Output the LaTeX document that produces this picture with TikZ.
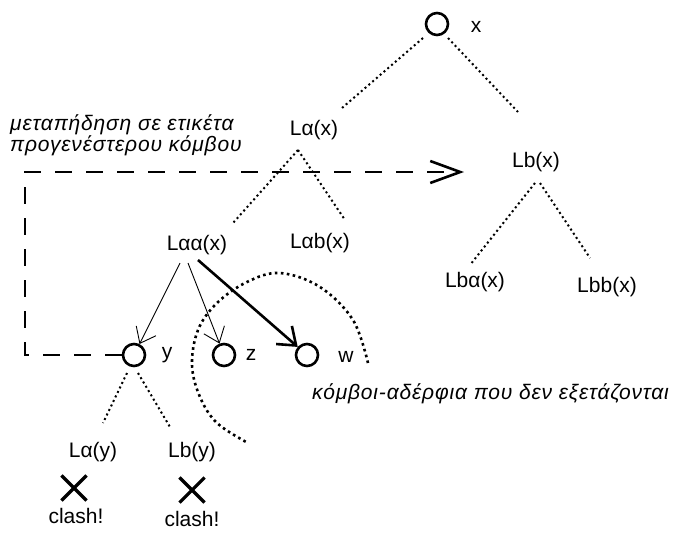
\documentclass[tikz,border=0pt]{standalone}
\usepackage{fontspec}
\setmainfont{Liberation Sans}
\usetikzlibrary{arrows.meta,shapes.misc}

\begin{document}
\begin{tikzpicture}[x=1pt,y=-1pt,
    vertex/.style={circle,draw,line width=2.6pt,minimum size=22pt,inner sep=0pt},
    lbl/.style={font=\fontsize{21}{24}\selectfont,inner sep=0pt},
    note/.style={font=\fontsize{21}{20}\selectfont\itshape\addfontfeature{LetterSpace=4},inner sep=0pt,align=left},
    tree/.style={line width=2pt,dash pattern=on 2pt off 3pt},
    sibling/.style={line width=2.6pt,dash pattern=on 2.6pt off 3.4pt},
    pick/.style={line width=0.9pt,-{Straight Barb[length=14pt,width=22pt]}},
    jump/.style={line width=2.6pt,dash pattern=on 17pt off 14pt},
    clash/.style={cross out,draw,line width=3.2pt,minimum size=22pt,inner sep=0pt}]
\useasboundingbox (0,0) rectangle (676,533);

% root and the labels reached from it
\node[vertex] (root) at (437,24) {};
\node[lbl] (rootl) at (476,27) {x};
\node[lbl] (La) at (314,130) {Lα(x)};
\node[lbl] (Lb) at (536,162) {Lb(x)};
\node[lbl] (Laa) at (197,245) {Lαα(x)};
\node[lbl] (Lab) at (320,243) {Lαb(x)};
\node[lbl] (Lba) at (475,282) {Lbα(x)};
\node[lbl] (Lbb) at (607,287) {Lbb(x)};

% children tried from Laa(x)
\node[vertex] (y) at (134,355) {};
\node[lbl] (yl) at (167,355) {y};
\node[vertex] (z) at (224,355) {};
\node[lbl] (zl) at (251,355) {z};
\node[vertex] (w) at (307,355) {};
\node[lbl] (wl) at (346,357) {w};

\node[lbl] (Lay) at (93,452) {Lα(y)};
\node[lbl] (Lby) at (192,452) {Lb(y)};
\node[clash] (x1) at (74,488) {};
\node[clash] (x2) at (192,490) {};
\node[lbl] (c1) at (76,516) {clash!};
\node[lbl] (c2) at (192,519) {clash!};

\node[note,anchor=west] (jumpnote) at (10,135) {μεταπήδηση σε ετικέτα\\προγενέστερου κόμβου};
\node[note,anchor=west] (sibnote) at (312,394) {κόμβοι-αδέρφια που δεν εξετάζονται};

% dotted tree edges
\draw[tree] ([shift={(-14,14)}]root.center) -- ([shift={(28,-22)}]La.center);
\draw[tree] ([shift={(11,14)}]root.center) -- ([shift={(-18,-50)}]Lb.center);
\draw[tree] ([shift={(-16,20)}]La.center) -- ([shift={(36,-22)}]Laa.center);
\draw[tree] ([shift={(-16,20)}]La.center) -- ([shift={(25,-23)}]Lab.center);
\draw[tree] ([shift={(-1,21)}]Lb.center) -- ([shift={(-5,-17)}]Lba.center);
\draw[tree] ([shift={(4,21)}]Lb.center) -- ([shift={(-17,-29)}]Lbb.center);
\draw[tree] ([shift={(-7,18)}]y.center) -- ([shift={(10,-29)}]Lay.center);
\draw[tree] ([shift={(4,18)}]y.center) -- ([shift={(-22,-25)}]Lby.center);

% arrows to the children
\draw[pick] ([shift={(-17,18)}]Laa.center) -- (y);
\draw[pick] ([shift={(-9,18)}]Laa.center) -- (z);
\draw[pick,line width=2.6pt,-{Straight Barb[length=16pt,width=24pt]}] ([shift={(1,15)}]Laa.center) -- (w);

% siblings that are skipped
\draw[sibling] plot[smooth,tension=0.6] coordinates {(368,363) (353,320) (320,287) (280,273) (247,282) (217,303) (198,330) (192,365) (200,397) (217,423) (248,443)};

% backjump
\coordinate (bend) at (25,172);
\coordinate (goal) at (464,172);
\draw[jump,-{Straight Barb[length=30pt,width=22pt]}] (y.west) -| (bend) -- (goal);
\end{tikzpicture}
\end{document}
